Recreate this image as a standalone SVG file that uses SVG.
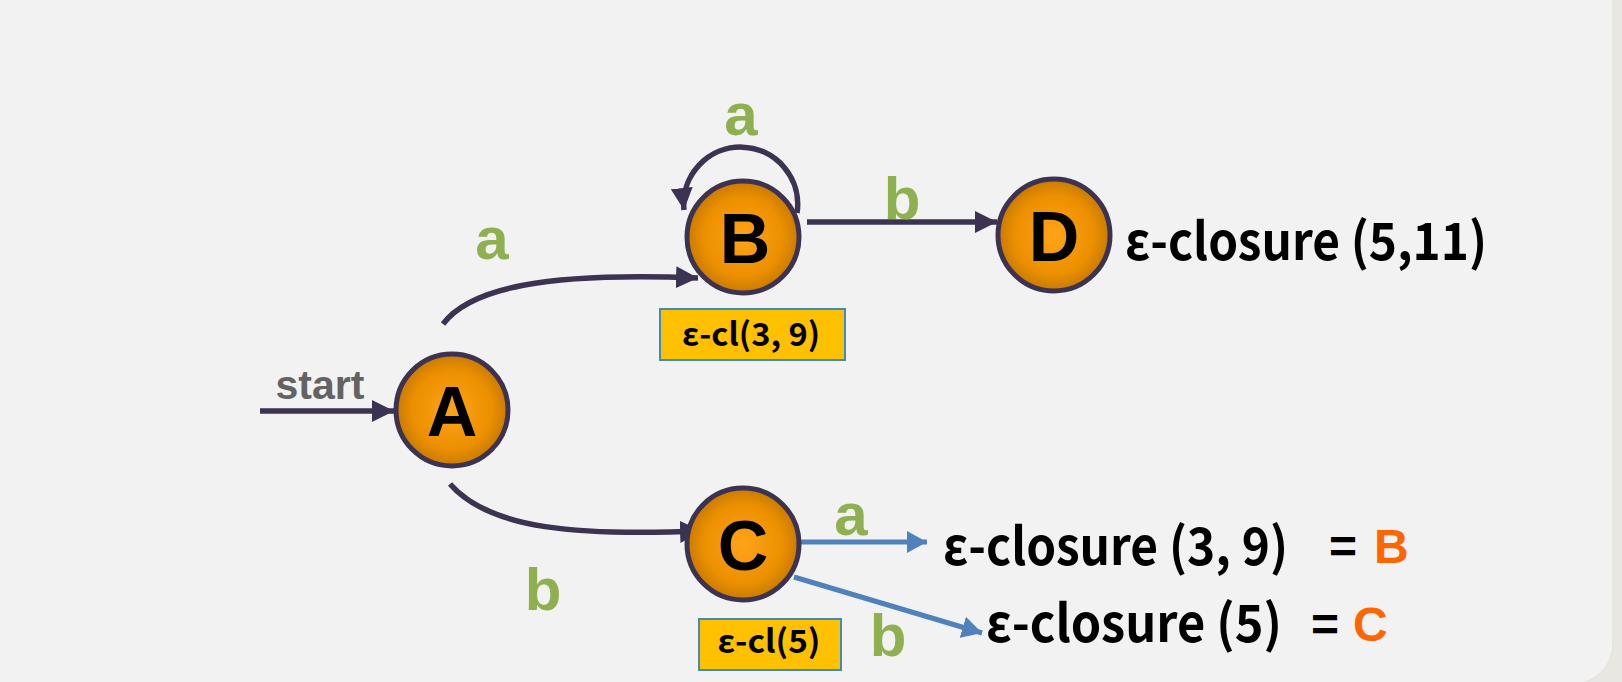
<svg xmlns="http://www.w3.org/2000/svg" width="1622" height="682" viewBox="0 0 1622 682">
<defs>
<radialGradient id="orange" cx="50%" cy="50%" r="50%">
<stop offset="0%" stop-color="#ffa31a"/>
<stop offset="70%" stop-color="#ec9000"/>
<stop offset="100%" stop-color="#c97a00"/>
</radialGradient>
<marker id="arrDark" markerUnits="userSpaceOnUse" markerWidth="24" markerHeight="22" refX="22" refY="11" orient="auto">
<path d="M0,0 L22,11 L0,22 Z" fill="#3c3252"/>
</marker>
<marker id="arrBlue" markerUnits="userSpaceOnUse" markerWidth="22" markerHeight="22" refX="20" refY="11" orient="auto">
<path d="M0,0 L20,11 L0,22 Z" fill="#4f81bd"/>
</marker>
<style>
.node circle{fill:url(#orange);stroke:#3c3252;stroke-width:5}
.node text{font-family:"Liberation Sans",Arial,sans-serif;font-weight:bold;font-size:70px;fill:#000;text-anchor:middle}
.edge{fill:none;stroke:#3c3252;stroke-width:5.5;marker-end:url(#arrDark)}
.blue{fill:none;stroke:#4f81bd;stroke-width:5;marker-end:url(#arrBlue)}
.lbl{font-family:"Liberation Sans",Arial,sans-serif;font-weight:bold;font-size:60px;fill:#8fb050;text-anchor:middle}
.cl{font-family:"Noto Sans CJK KR","Noto Sans",sans-serif;font-weight:bold;font-size:52px;fill:#000}
.eq{font-family:"Liberation Sans",Arial,sans-serif;font-weight:bold;font-size:48px}
.box rect{fill:#ffc000;stroke:#3c8dbc;stroke-width:2}
.box text{font-family:"Noto Sans CJK KR","Noto Sans",sans-serif;font-weight:bold;font-size:32px;fill:#000;text-anchor:middle}
</style>
</defs>
<rect x="0" y="0" width="1622" height="682" fill="#e9e7e1"/>
<rect x="-40" y="-40" width="1653" height="724" rx="40" fill="#f2f2f2" stroke="#e2dfd8" stroke-width="1"/>

<g id="connectors">
<path class="edge" d="M260,411 L394,411"/>
<path class="edge" d="M443,324 C470,288 545,272 698,278"/>
<path class="edge" d="M450,484 C490,530 580,536 702,531"/>
<path class="edge" d="M797,213 A57,57 0 1 0 684,210"/>
<path class="edge" d="M807,222 L997,222"/>
<path class="blue" d="M794,542 L927,542"/>
<path class="blue" d="M794,577 L982,633"/>
</g>

<g id="labels">
<text x="320" y="399" style="font-family:'Liberation Sans',Arial,sans-serif;font-weight:bold;font-size:41px;fill:#636363;text-anchor:middle">start</text>
<text class="lbl" x="741" y="135">a</text>
<text class="lbl" x="492" y="259">a</text>
<text class="lbl" x="902" y="219">b</text>
<text class="lbl" x="543" y="610">b</text>
<text class="lbl" x="851" y="535">a</text>
<text class="lbl" x="888" y="656">b</text>
</g>

<g id="node-A" class="node"><circle cx="452" cy="410" r="56"/><text x="452" y="436">A</text></g>
<g id="node-B" class="node"><circle cx="743" cy="237" r="56"/><text x="745" y="263">B</text></g>
<g id="node-C" class="node"><circle cx="743" cy="544" r="56"/><text x="743" y="570">C</text></g>
<g id="node-D" class="node"><circle cx="1054" cy="235" r="56"/><text x="1054" y="261">D</text></g>

<g id="box-B" class="box"><rect x="660" y="309" width="185" height="51"/><text x="751" y="346" textLength="138" lengthAdjust="spacingAndGlyphs">ε-cl(3, 9)</text></g>
<g id="box-C" class="box"><rect x="699" y="619" width="142" height="51"/><text x="769" y="653" textLength="103" lengthAdjust="spacingAndGlyphs">ε-cl(5)</text></g>

<g id="closure-D"><text class="cl" x="1125" y="260" textLength="362" lengthAdjust="spacingAndGlyphs">ε-closure (5,11)</text></g>
<g id="closure-a">
<text class="cl" x="943" y="565" textLength="345" lengthAdjust="spacingAndGlyphs">ε-closure (3, 9)</text>
<text class="eq" x="1329" y="563" fill="#000">=</text>
<text class="eq" x="1374" y="563" fill="#ff6600">B</text>
</g>
<g id="closure-b">
<text class="cl" x="986" y="642" textLength="296" lengthAdjust="spacingAndGlyphs">ε-closure (5)</text>
<text class="eq" x="1311" y="641" fill="#000">=</text>
<text class="eq" x="1353" y="641" fill="#ff6600">C</text>
</g>
</svg>
